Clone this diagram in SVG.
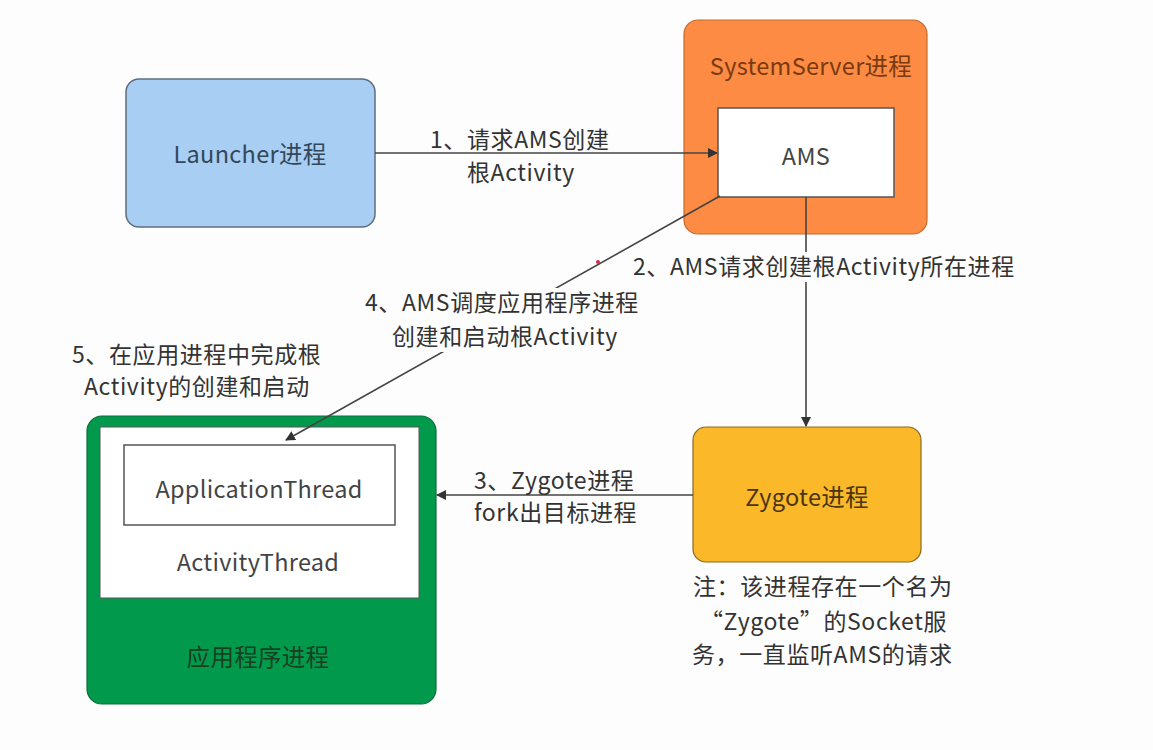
<svg xmlns="http://www.w3.org/2000/svg" width="1153" height="750" viewBox="0 0 1153 750">
<defs>
<marker id="arr" viewBox="0 0 10 10" refX="9" refY="5" markerWidth="10" markerHeight="10" markerUnits="userSpaceOnUse" orient="auto">
<path d="M0,0 L10,5 L0,10 Z" fill="#333"/>
</marker>
<style>
text{font-family:"Noto Sans CJK SC","Noto Sans",sans-serif;font-size:23px;fill:#333;letter-spacing:0.6px}
.c{text-anchor:middle}
.n{font-size:23.5px;letter-spacing:0.3px}
.line{stroke:#444;stroke-width:1.6;fill:none}
.bg{fill:#fdfdfd}
</style>
</defs>
<rect width="1153" height="750" fill="#fdfdfd"/>
<g id="launcher">
<rect x="126" y="79" width="249" height="148" rx="13" fill="#a8cff3" stroke="#5d6d7c" stroke-width="1.5"/>
<text class="c n" x="250" y="163" style="fill:#33475a">Launcher进程</text>
</g>
<g id="systemserver">
<rect x="684" y="20" width="243" height="214" rx="14" fill="#fd8b43" stroke="#c46b2e" stroke-width="1.2"/>
<text class="c n" x="811" y="75" style="fill:#7a3a10">SystemServer进程</text>
</g>
<g id="ams">
<rect x="718" y="108" width="176" height="89" fill="#fff" stroke="#555" stroke-width="1.5"/>
<text class="c n" x="806" y="165" style="fill:#444">AMS</text>
</g>
<g id="zygote">
<rect x="693" y="427" width="228" height="135" rx="13" fill="#fbb828" stroke="#8a6a20" stroke-width="1.2"/>
<text class="c n" x="807" y="506" style="fill:#4a3510">Zygote进程</text>
</g>
<g id="appprocess">
<rect x="87" y="416" width="349" height="288" rx="15" fill="#019a4d" stroke="#0b6e3a" stroke-width="1.2"/>
<rect x="100" y="427" width="319" height="171" fill="#fff" stroke="#555" stroke-width="1"/>
<text class="c n" x="258" y="666" style="fill:#17401f">应用程序进程</text>
</g>
<g id="applicationthread">
<rect x="124" y="445" width="271" height="80" fill="#fff" stroke="#555" stroke-width="1.5"/>
<text class="c n" x="259" y="498" style="fill:#444">ApplicationThread</text>
</g>
<g id="activitythread">
<text class="c n" x="258" y="571" style="fill:#444">ActivityThread</text>
</g>
<g id="connectors">
<line class="line" x1="375" y1="153" x2="717" y2="153" marker-end="url(#arr)"/>
<line class="line" x1="806" y1="197" x2="806" y2="426" marker-end="url(#arr)"/>
<line class="line" x1="693" y1="495" x2="437" y2="495" marker-end="url(#arr)"/>
<line class="line" x1="720" y1="196" x2="286" y2="440" marker-end="url(#arr)"/>
<circle cx="598" cy="262" r="2" fill="#d0304a"/>
</g>
<g id="labels">
<text x="430" y="148">1、请求AMS创建</text>
<text x="467" y="181">根Activity</text>
<rect class="bg" x="630" y="252" width="392" height="30"/>
<text x="633" y="275">2、AMS请求创建根Activity所在进程</text>
<rect class="bg" x="362" y="288" width="282" height="64"/>
<text x="365" y="311">4、AMS调度应用程序进程</text>
<text x="392" y="345">创建和启动根Activity</text>
<text x="72" y="363">5、在应用进程中完成根</text>
<text x="84" y="395">Activity的创建和启动</text>
<text x="474" y="489">3、Zygote进程</text>
<text x="474" y="521">fork出目标进程</text>
<text x="693" y="595">注：该进程存在一个名为</text>
<text x="700" y="630">“Zygote”的Socket服</text>
<text x="692" y="663">务，一直监听AMS的请求</text>
</g>
</svg>
